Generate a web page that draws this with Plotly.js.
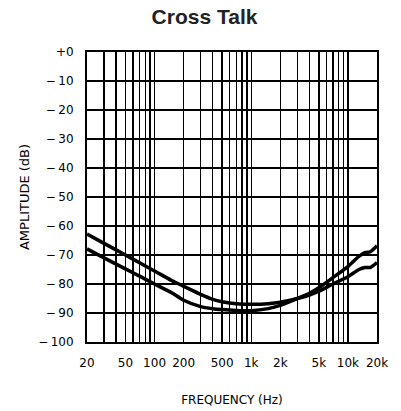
<!DOCTYPE html>
<html>
<head>
<meta charset="utf-8">
<script src="https://cdn.plot.ly/plotly-3.0.1.min.js"></script>
<style>html,body{margin:0;padding:0;background:#fff;}#chart{width:401px;height:411px;}</style>
</head>
<body>
<div id="chart"></div>
<script>
// Frequency points (Hz)
var freq = [20, 30, 50, 70, 100, 150, 200, 300, 400, 500, 700, 1000, 1500, 2000, 3000, 4000, 5000, 7000, 10000, 13000, 15000, 17000, 20000];
// Curve starting higher at low frequency
var seriesA = [-62.8, -66.0, -70.0, -72.7, -75.5, -78.8, -80.8, -83.6, -85.3, -86.1, -86.8, -87.0, -86.8, -86.3, -85.0, -83.8, -82.5, -80.0, -77.5, -75.0, -74.3, -74.3, -72.6];
// Curve starting lower at low frequency
var seriesB = [-67.9, -71.0, -74.8, -77.3, -80.0, -83.0, -85.6, -87.8, -88.5, -88.8, -89.1, -89.2, -88.5, -87.4, -85.0, -83.2, -81.3, -77.8, -74.0, -70.5, -69.2, -68.9, -66.8];

// Grid / tick positions and labels
var xGridVals = [20,30,40,50,60,70,80,90,100,200,300,400,500,600,700,800,900,1000,2000,3000,4000,5000,6000,7000,8000,9000,10000,20000];
var xLabelMap = {20:"20",50:"50",100:"100",200:"200",500:"500",1000:"1k",2000:"2k",5000:"5k",10000:"10k",20000:"20k"};
var xTickText = xGridVals.map(function(v){ return xLabelMap[v] || ""; });
var yTickVals = [0,-10,-20,-30,-40,-50,-60,-70,-80,-90,-100];
var yTickText = ["+0","\u2212\u200910","\u2212\u200920","\u2212\u200930","\u2212\u200940","\u2212\u200950","\u2212\u200960","\u2212\u200970","\u2212\u200980","\u2212\u200990","\u2212\u2009100"];

var lineStyle = {color:"#000", width:3.5, shape:"spline", smoothing:0.6};
var traces = [
  {x:freq, y:seriesA, mode:"lines", line:lineStyle, hoverinfo:"skip"},
  {x:freq, y:seriesB, mode:"lines", line:lineStyle, hoverinfo:"skip"}
];

var tickFont = {family:"DejaVu Sans, sans-serif", size:12, color:"#000"};
var layout = {
  width:401, height:411,
  margin:{l:87, r:24, t:52, b:69},
  paper_bgcolor:"#fff", plot_bgcolor:"#fff",
  showlegend:false,
  title:{text:"<b>Cross Talk</b>", font:{family:"Liberation Sans, Arial, sans-serif", size:21, color:"#222"}, x:0.51, xanchor:"center", y:0.96, yanchor:"middle"},
  xaxis:{
    type:"log", range:[Math.log10(20), Math.log10(20000)],
    tickmode:"array", tickvals:xGridVals, ticktext:xTickText,
    ticks:"", ticklabelstandoff:9,
    showgrid:true, gridcolor:"#000", gridwidth:1.4,
    showline:true, linecolor:"#000", linewidth:2, mirror:true,
    tickfont:tickFont,
    title:{text:"FREQUENCY (Hz)", font:{family:"DejaVu Sans, sans-serif", size:12, color:"#000"}, standoff:26},
    fixedrange:true
  },
  yaxis:{
    range:[-100, 0],
    tickmode:"array", tickvals:yTickVals, ticktext:yTickText,
    ticks:"", ticklabelstandoff:9,
    showgrid:true, gridcolor:"#000", gridwidth:1.4, zeroline:false,
    showline:true, linecolor:"#000", linewidth:2, mirror:true,
    tickfont:tickFont,
    title:{text:"AMPLITUDE (dB)", font:{family:"DejaVu Sans, sans-serif", size:13, color:"#000"}, standoff:6},
    fixedrange:true
  }
};
Plotly.newPlot("chart", traces, layout, {displayModeBar:false, staticPlot:true});
</script>
</body>
</html>
